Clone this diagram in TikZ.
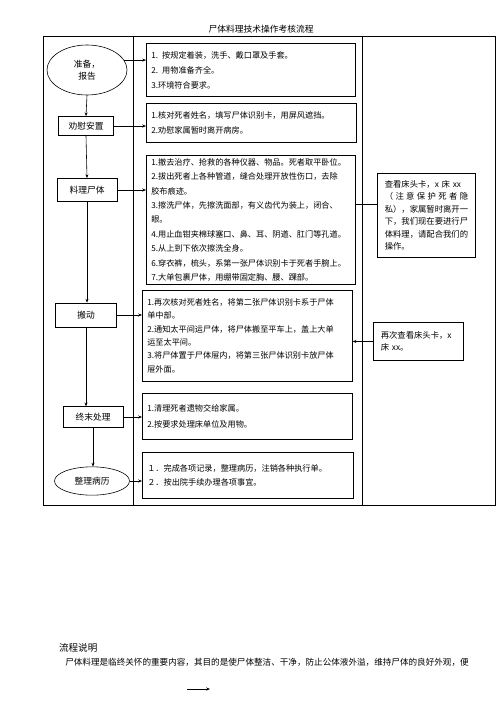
\documentclass[tikz,border=0pt]{standalone}
\usepackage{fontspec}
\setmainfont{Noto Sans CJK SC}
\usetikzlibrary{arrows.meta,positioning,calc,shapes.geometric}
\newcommand\fs[1]{\fontsize{9.8}{#1}\selectfont}

\begin{document}
\begin{tikzpicture}[x=1.2pt,y=-1.2pt,>={Stealth[length=4.5pt,width=3.6pt]},line width=0.7pt]
\tikzstyle{lb}=[draw,inner sep=0pt,font=\fontsize{10.5}{13}\selectfont]
\tikzstyle{ov}=[draw,ellipse,inner sep=0pt,align=center,font=\fontsize{10.5}{14}\selectfont]
\tikzstyle{tb}=[draw,anchor=north west,align=left,inner xsep=6pt,inner ysep=3pt]
\useasboundingbox (0,0) rectangle (496,702);
% title and frame
\node[font=\fontsize{10.5}{12}\selectfont] (title) at (261,29) {尸体料理技术操作考核流程};
\draw (43,36) rectangle (495,505);
\draw (133,36) -- (133,505);
\draw (362,36) -- (362,505);
% left column: steps
\node[ov,minimum width=96pt,minimum height=60pt] (prep) at (87,70) {准备，\\报告};
\node[lb,minimum width=66pt,minimum height=23pt] (comfort) at (86,126) {劝慰安置};
\node[lb,minimum width=72pt,minimum height=28pt] (care) at (87,190) {料理尸体};
\node[lb,minimum width=73pt,minimum height=29pt] (move) at (86,315) {搬动};
\node[lb,minimum width=72pt,minimum height=25pt] (final) at (93,417) {终末处理};
\node[ov,minimum width=90pt,minimum height=34pt] (record) at (92,481) {整理病历};
% middle column: details
\node[tb,text width=239pt,minimum height=64pt,font=\fs{18}] (m1) at (146,43) {1. 按规定着装，洗手、戴口罩及手套。\\2. 用物准备齐全。\\3.环境符合要求。};
\node[tb,text width=240pt,minimum height=47pt,font=\fs{17}] (m2) at (146,103) {1.核对死者姓名，填写尸体识别卡，用屏风遮挡。\\2.劝慰家属暂时离开病房。};
\node[tb,text width=239pt,minimum height=155pt,font=\fs{17.3}] (m3) at (146,155) {1.撤去治疗、抢救的各种仪器、物品。死者取平卧位。\\2.拔出死者上各种管道，缝合处理开放性伤口，去除\\胶布痕迹。\\3.擦洗尸体，先擦洗面部，有义齿代为装上，闭合、\\眼。\\4.用止血钳夹棉球塞口、鼻、耳、阴道、肛门等孔道。\\5.从上到下依次擦洗全身。\\6.穿衣裤，梳头，系第一张尸体识别卡于死者手腕上。\\7.大单包裹尸体，用绷带固定胸、腰、踝部。};
\node[tb,text width=240pt,minimum height=109pt,font=\fs{16}] (m4) at (142,290) {1.再次核对死者姓名，将第二张尸体识别卡系于尸体\\单中部。\\2.通知太平间运尸体，将尸体搬至平车上，盖上大单\\运至太平间。\\3.将尸体置于尸体屉内，将第三张尸体识别卡放尸体\\屉外面。};
\node[tb,text width=240pt,minimum height=55pt,font=\fs{19}] (m5) at (142,393) {1.清理死者遗物交给家属。\\2.按要求处理床单位及用物。};
\node[tb,text width=241pt,minimum height=55pt,font=\fs{16}] (m6) at (142,452) {１．完成各项记录，整理病历，注销各种执行单。\\２．按出院手续办理各项事宜。};
% right column: notes
\node[tb,text width=100pt,inner xsep=9pt,minimum height=101pt,font=\fontsize{10}{15}\selectfont] (r1) at (377,173) {\makebox[100pt][s]{查看床头卡，x 床 xx}\\\makebox[100pt]{（\hfill 注\hfill 意\hfill 保\hfill 护\hfill 死\hfill 者\hfill 隐}\\私），家属暂时离开一\\下，我们现在要进行尸\\体料理，请配合我们的\\操作。};
\node[tb,text width=90pt,inner xsep=9pt,minimum height=46pt,font=\fontsize{10}{14.5}\selectfont] (r2) at (373,322) {再次查看床头卡，x\\床 xx。};
% connectors
\draw[->] (prep.south) -- (comfort.north);
\draw[->] (comfort.south) -- (care.north);
\draw[->] (care.south) -- (care.south |- move.north);
\draw[->] (move.south) -- (move.south |- final.north);
\draw[->] (final.south) -- (final.south |- record.north);
\draw[->] (prep.15) -- (prep.15 -| m1.west);
\draw[->] (comfort.east) -- (comfort.east -| m2.west);
\draw[->] (care.east) -- (care.east -| m3.west);
\draw[->] (move.east) -- (move.east -| m4.west);
\draw[->] (final.east) -- (final.east -| m5.west);
\draw[->] (record.east) -- (record.east -| m6.west);
\draw ([yshift=13pt]r1.west) -- ([yshift=13pt]r1.west -| m3.east);
\draw[->] (r2.west) -- (r2.west -| m4.east);
% notes below
\node[anchor=west,font=\fontsize{11.5}{14}\selectfont] (flow) at (56,648) {流程说明};
\node[anchor=west,inner sep=0pt,font=\fontsize{10.3}{12}\selectfont] (desc) at (65,662) {尸体料理是临终关怀的重要内容，其目的是使尸体整洁、干净，防止公体液外溢，维持尸体的良好外观，便};
\coordinate (a1) at (187,689);
\coordinate (a2) at (210,689);
\draw[->] (a1) -- (a2);
\end{tikzpicture}
\end{document}
